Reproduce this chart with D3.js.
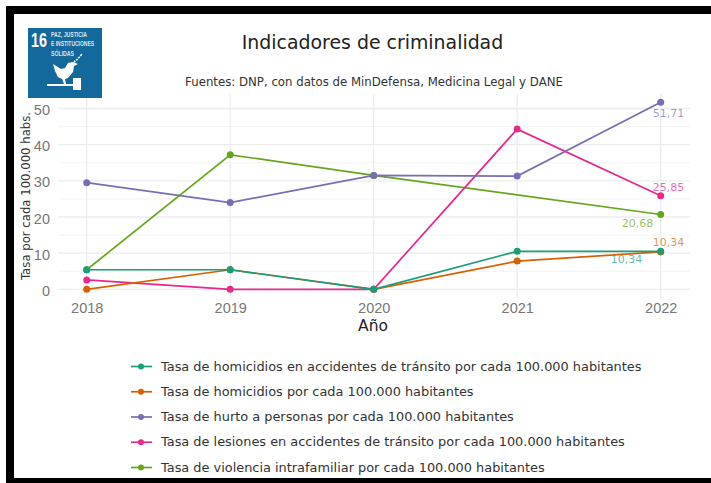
<!DOCTYPE html>
<html>
<head>
<meta charset="utf-8">
<script src="https://cdn.jsdelivr.net/npm/d3@7"></script>
<style>
  html, body { margin: 0; padding: 0; background: #fff; overflow: hidden; }
  svg { display: block; font-family: "DejaVu Sans", sans-serif; }
</style>
</head>
<body>
<div id="chart"></div>
<script>
const years = [2018, 2019, 2020, 2021, 2022]
const yTicks = [0, 10, 20, 30, 40, 50]
const yMinor = [5, 15, 25, 35, 45]

const transito = [5.4, 5.4, 0, 10.5, 10.5]
const homicidios = [0, 5.4, 0, 7.8, 10.34]
const hurto = [29.5, 24, 31.5, 31.3, 51.71]
const lesiones = [2.6, 0, 0, 44.3, 25.85]
const violencia = [5.4, 37.2, 31.5, null, 20.68]

const names = [
  'Tasa de homicidios en accidentes de tránsito por cada 100.000 habitantes',
  'Tasa de homicidios por cada 100.000 habitantes',
  'Tasa de hurto a personas por cada 100.000 habitantes',
  'Tasa de lesiones en accidentes de tránsito por cada 100.000 habitantes',
  'Tasa de violencia intrafamiliar por cada 100.000 habitantes'
]
const colors = ['#1b9e77', '#d95f02', '#7570b3', '#e7298a', '#66a61e']
const seriesValues = [transito, homicidios, hurto, lesiones, violencia]

// last-year labels, offsets as in the picture
const endLabels = [
  {text: '10,34', serie: 0, dx: -50, dy: 12},
  {text: '10,34', serie: 1, dx: -8, dy: -6},
  {text: '51,71', serie: 2, dx: -8, dy: 15},
  {text: '25,85', serie: 3, dx: -8, dy: -5},
  {text: '20,68', serie: 4, dx: -39, dy: 12}
]

const width = 711
const height = 483

const svg = d3.select('#chart')
  .append('svg')
  .attr('width', width)
  .attr('height', height)

const x = d3.scalePoint()
  .domain(years)
  .range([86.7, 660.7])

const y = d3.scaleLinear()
  .domain([0, 50])
  .range([289.3, 108.5])

// frame: open on the right, the photo cuts it off
svg.append('rect').attr('x', 6).attr('y', 6).attr('width', width - 6).attr('height', 8)
svg.append('rect').attr('x', 6).attr('y', 6).attr('width', 8).attr('height', height - 6)
svg.append('rect').attr('x', 6).attr('y', 478).attr('width', width - 6).attr('height', 5)

// grid
const grid = svg.append('g')
grid.selectAll('line.major')
  .data(yTicks)
  .enter()
  .append('line')
  .attr('x1', 58)
  .attr('x2', 690)
  .attr('y1', d => y(d))
  .attr('y2', d => y(d))
  .attr('stroke', '#ececec')
  .attr('stroke-width', 1.3)
grid.selectAll('line.minor')
  .data(yMinor)
  .enter()
  .append('line')
  .attr('x1', 58)
  .attr('x2', 690)
  .attr('y1', d => y(d))
  .attr('y2', d => y(d))
  .attr('stroke', '#f3f3f3')
  .attr('stroke-width', 1)
grid.selectAll('line.vert')
  .data(years)
  .enter()
  .append('line')
  .attr('x1', d => x(d))
  .attr('x2', d => x(d))
  .attr('y1', 94)
  .attr('y2', 298)
  .attr('stroke', '#ececf2')
  .attr('stroke-width', 1.3)

// axes
const yAxis = svg.append('g')
  .attr('transform', 'translate(50,1.5)')
  .call(d3.axisLeft(y).tickValues(yTicks).tickSize(0).tickPadding(0))
yAxis.select('.domain').remove()
yAxis.selectAll('text')
  .attr('fill', '#777')
  .style('font-size', '14.5px')

const xAxis = svg.append('g')
  .attr('transform', 'translate(0,303)')
  .call(d3.axisBottom(x).tickFormat(d3.format('d')).tickSize(0).tickPadding(0))
xAxis.select('.domain').remove()
xAxis.selectAll('text')
  .attr('fill', '#777')
  .style('font-size', '14.5px')

// series, first name ends up on top
const line = d3.line()
  .x(d => x(d.year))
  .y(d => y(d.v))

d3.range(seriesValues.length - 1, -1, -1).forEach(i => {
  const points = seriesValues[i]
    .map((v, k) => ({year: years[k], v: v}))
    .filter(d => d.v !== null)
  svg.append('path')
    .attr('d', line(points))
    .attr('fill', 'none')
    .attr('stroke', colors[i])
    .attr('stroke-width', 1.7)
  svg.selectAll('circle.s' + i)
    .data(points)
    .enter()
    .append('circle')
    .attr('class', 's' + i)
    .attr('cx', d => x(d.year))
    .attr('cy', d => y(d.v))
    .attr('r', 3.5)
    .attr('fill', colors[i])
})

svg.selectAll('text.end')
  .data(endLabels)
  .enter()
  .append('text')
  .attr('class', 'end')
  .attr('x', d => x(2022) + d.dx)
  .attr('y', d => y(seriesValues[d.serie][4]) + d.dy)
  .attr('fill', d => colors[d.serie])
  .attr('fill-opacity', 0.7)
  .style('font-size', '11px')
  .text(d => d.text)

// titles
svg.append('text')
  .attr('x', 372.5)
  .attr('y', 49)
  .attr('text-anchor', 'middle')
  .attr('fill', '#222')
  .style('font-size', '18.9px')
  .text('Indicadores de criminalidad')

svg.append('text')
  .attr('x', 374)
  .attr('y', 86)
  .attr('text-anchor', 'middle')
  .attr('fill', '#333')
  .style('font-size', '11.75px')
  .text('Fuentes: DNP, con datos de MinDefensa, Medicina Legal y DANE')

svg.append('text')
  .attr('x', 373)
  .attr('y', 331)
  .attr('text-anchor', 'middle')
  .attr('fill', '#222')
  .style('font-size', '15.5px')
  .text('Año')

svg.append('text')
  .attr('transform', 'translate(30,196) rotate(-90)')
  .attr('text-anchor', 'middle')
  .attr('fill', '#333')
  .style('font-size', '11.7px')
  .text('Tasa por cada 100.000 habs.')

// legend
const legendY = d3.scalePoint()
  .domain(names)
  .range([366.5, 467.5])

const legend = svg.selectAll('g.legend')
  .data(names)
  .enter()
  .append('g')
  .attr('class', 'legend')
  .attr('transform', d => `translate(0,${legendY(d)})`)
legend.append('line')
  .attr('x1', 131)
  .attr('x2', 152)
  .attr('stroke', (d, i) => colors[i])
  .attr('stroke-width', 1.7)
legend.append('circle')
  .attr('cx', 141)
  .attr('r', 3)
  .attr('fill', (d, i) => colors[i])
legend.append('text')
  .attr('x', 161)
  .attr('y', 4)
  .attr('fill', '#333')
  .style('font-size', '12.9px')
  .text(d => d)

// SDG 16 badge, text squeezed with textLength since no narrow face is sure to exist
const badge = svg.append('g').attr('transform', 'translate(28,28)')
badge.append('rect')
  .attr('width', 74)
  .attr('height', 70)
  .attr('fill', '#13699c')
badge.append('text')
  .attr('x', 3)
  .attr('y', 19)
  .attr('fill', '#fff')
  .attr('font-weight', 'bold')
  .attr('font-family', '"Liberation Sans", sans-serif')
  .attr('textLength', 16)
  .attr('lengthAdjust', 'spacingAndGlyphs')
  .style('font-size', '21px')
  .text('16')
const badgeLines = ['PAZ, JUSTICIA', 'E INSTITUCIONES', 'SÓLIDAS']
const badgeLineWidths = [36, 43, 23]
const badgeLineY = [9, 18, 28]
badge.selectAll('text.small')
  .data(badgeLines)
  .enter()
  .append('text')
  .attr('class', 'small')
  .attr('x', 23)
  .attr('y', (d, i) => badgeLineY[i])
  .attr('fill', '#fff')
  .attr('fill-opacity', 0.85)
  .attr('font-weight', 'bold')
  .attr('font-family', '"Liberation Sans", sans-serif')
  .attr('textLength', (d, i) => badgeLineWidths[i])
  .attr('lengthAdjust', 'spacingAndGlyphs')
  .style('font-size', '6.5px')
  .text(d => d)
// dove, olive branch and gavel
badge.append('path')
  .attr('d', 'M25 36 L33 41 L37 40 L40 35 L45 34 L50 36 L46 38 L45 44 L40 50 L37 51 L38 56 L36 56 L34 51 L30 49 L27 43 Z')
  .attr('fill', '#fff')
badge.append('path')
  .attr('d', 'M46 34 Q50 31 54 26')
  .attr('fill', 'none')
  .attr('stroke', '#fff')
  .attr('stroke-width', 1.5)
  .attr('stroke-dasharray', '2 1')
badge.append('rect').attr('x', 19).attr('y', 56).attr('width', 27).attr('height', 2).attr('fill', '#fff')
badge.append('rect').attr('x', 45).attr('y', 50).attr('width', 8).attr('height', 12).attr('fill', '#fff')
</script>
</body>
</html>
